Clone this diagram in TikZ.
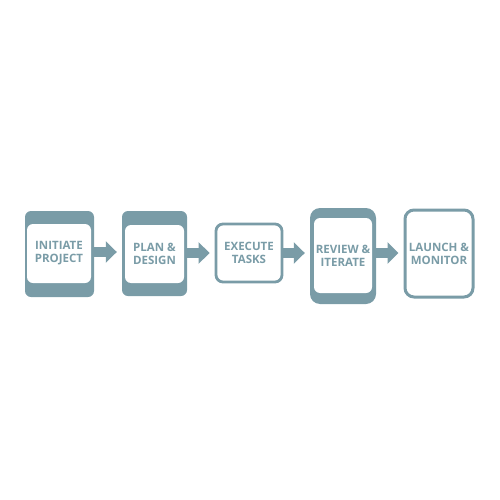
\documentclass[tikz,border=0pt]{standalone}
\usepackage{fontspec}
\setmainfont{Open Sans}
\usetikzlibrary{arrows.meta}
\definecolor{stepcol}{RGB}{122,156,167}
\tikzset{
  outerbox/.style = {fill = stepcol, draw = none, rounded corners = 6pt, inner sep = 0pt},
  innerbox/.style = {fill = white, draw = none, rounded corners = 6pt, inner sep = 0pt, align = center,
                     text = stepcol, font = \bfseries\fontsize{11.5}{13}\selectfont},
  framebox/.style = {fill = white, draw = stepcol, line width = 2.8pt, rounded corners = 7pt, inner sep = 0pt,
                     align = center, text = stepcol, font = \bfseries\fontsize{11.5}{13}\selectfont},
  flowarrow/.style = {draw = stepcol, line width = 9.5pt, shorten > = 5pt,
                      -{Triangle[length = 11pt, width = 21pt]}}
}
\begin{document}
\begin{tikzpicture}[x=1pt,y=-1pt]
\useasboundingbox (0,0) rectangle (500,500);
% initiate
\node[outerbox, minimum width = 69pt, minimum height = 86pt] (b1) at (59.5,254) {};
\node[innerbox, minimum width = 64pt, minimum height = 59pt] (t1) at (59,253.5) {INITIATE\\PROJECT};
% plan
\node[outerbox, minimum width = 65pt, minimum height = 85pt] (b2) at (154.5,253.5) {};
\node[innerbox, minimum width = 59pt, minimum height = 58pt] (t2) at (154.5,254) {PLAN \&\\DESIGN};
% execute
\node[framebox, minimum width = 66pt, minimum height = 58pt] (b3) at (249,253) {EXECUTE\\TASKS};
% review
\node[outerbox, rounded corners = 10pt, minimum width = 66pt, minimum height = 96pt] (b4) at (343,256) {};
\node[innerbox, minimum width = 58pt, minimum height = 75pt] (t4) at (343,255.5) {REVIEW \&\\ITERATE};
% launch
\node[framebox, line width = 3pt, rounded corners = 9pt, minimum width = 68pt, minimum height = 87pt] (b5) at (439,253.5) {LAUNCH \&\\MONITOR};
% arrows
\draw[flowarrow] (b1.east |- 0,252) -- (b2.west |- 0,252);
\draw[flowarrow] (b2.east |- 0,253) -- (b3.west |- 0,253);
\draw[flowarrow] (b3.east |- 0,253) -- (b4.west |- 0,253);
\draw[flowarrow] (b4.east |- 0,253) -- (b5.west |- 0,253);
\end{tikzpicture}
\end{document}
